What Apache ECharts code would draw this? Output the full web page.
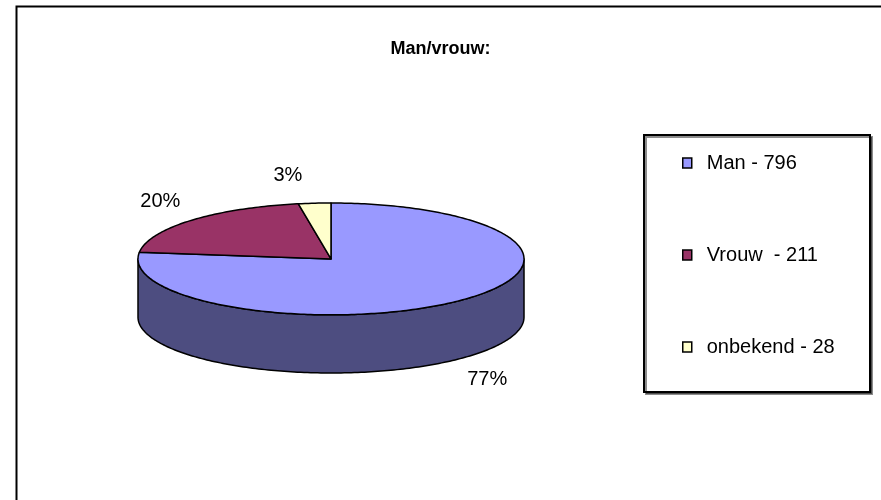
<!DOCTYPE html>
<html>
<head>
<meta charset="utf-8">
<script src="https://cdn.jsdelivr.net/npm/echarts@6/dist/echarts.min.js"></script>
<style>html,body{margin:0;padding:0;background:#fff}#chart{width:881px;height:500px}</style>
</head>
<body>
<div id="chart"></div>
<script>
// data
const categories = ['Man', 'Vrouw ', 'onbekend'];
const values = [796, 211, 28];
const topColors = ['#9999FF', '#993366', '#FFFFCC'];
const sideColors = ['#4D4D80', '#4D1A33', '#808066'];

const total = values.reduce((a, b) => a + b, 0);
const DEPTH = 1.04; // thickness of the disc, in ellipse radii
const FONT = '"Liberation Sans", Arial, sans-serif';

// angle in degrees from 12 o'clock, clockwise (Excel style)
function angleAt(i) {
    let s = 0;
    for (let k = 0; k < i; k++) s += values[k];
    return s / total * 360;
}
function pt(deg, dy) {
    const r = deg * Math.PI / 180;
    return [Math.sin(r), Math.cos(r) - (dy || 0)];
}

function renderSlice(params, api) {
    const i = params.seriesIndex;
    const a0 = angleAt(i), a1 = angleAt(i + 1);
    const children = [];

    // side wall, only the front half (90..270) is visible
    const s0 = Math.max(a0, 90), s1 = Math.min(a1, 270);
    if (s1 > s0) {
        const pts = [];
        for (let d = s0; d < s1; d += 1) pts.push(api.coord(pt(d)));
        pts.push(api.coord(pt(s1)));
        for (let d = s1; d > s0; d -= 1) pts.push(api.coord(pt(d, DEPTH)));
        pts.push(api.coord(pt(s0, DEPTH)));
        children.push({
            type: 'polygon', shape: {points: pts},
            style: {fill: sideColors[i], stroke: '#000', lineWidth: 1.5, lineJoin: 'round'}
        });
    }

    // top face
    const top = [api.coord([0, 0])];
    for (let d = a0; d < a1; d += 1) top.push(api.coord(pt(d)));
    top.push(api.coord(pt(a1)));
    children.push({
        type: 'polygon', shape: {points: top},
        style: {fill: topColors[i], stroke: '#000', lineWidth: 1.5, lineJoin: 'round'}
    });

    // percentage label
    const mid = (a0 + a1) / 2 * Math.PI / 180;
    let ly = Math.cos(mid) * 1.5;
    if (ly < 0) ly -= DEPTH;
    let lx = Math.sin(mid) * 1.22;
    if (Math.abs(lx) < 0.2) lx = lx - 0.12; // small top slice: label sits left of it
    const lp = api.coord([lx, ly]);
    children.push({
        type: 'text', x: lp[0], y: lp[1],
        style: {
            text: Math.round(values[i] / total * 100) + '%',
            fontSize: 20, fontFamily: FONT, fill: '#000',
            align: 'center', verticalAlign: 'middle'
        }
    });
    return {type: 'group', children: children};
}

const myChart = echarts.init(document.getElementById('chart'));

const option = {
    animation: false,
    backgroundColor: '#fff',
    title: {
        text: 'Man/vrouw:',
        left: 'center',
        top: 35,
        textStyle: {fontSize: 18, fontWeight: 'bold', fontFamily: FONT, color: '#000'}
    },
    graphic: [
        {
            type: 'rect', left: 14, top: 4, z: 0,
            shape: {width: 900, height: 600},
            style: {fill: 'none', stroke: '#000', lineWidth: 2}
        },
        {
            type: 'rect', left: 643, top: 134, z: 0,
            shape: {width: 226, height: 257},
            style: {
                fill: '#fff', stroke: '#000', lineWidth: 2,
                shadowColor: 'rgba(0,0,0,0.45)', shadowOffsetX: 2, shadowOffsetY: 2
            }
        }
    ],
    legend: {
        data: categories,
        orient: 'vertical',
        left: 677,
        top: 147,
        itemGap: 70,
        itemWidth: 9,
        itemHeight: 10,
        icon: 'rect',
        itemStyle: {borderColor: '#000', borderWidth: 1.5},
        formatter: name => name + ' - ' + values[categories.indexOf(name)],
        textStyle: {fontSize: 20, fontFamily: FONT, color: '#000', lineHeight: 22, padding: [0, 0, 0, 10]},
        selectedMode: false
    },
    grid: {left: 138, top: 203, width: 386, height: 170},
    xAxis: {type: 'value', min: -1, max: 1, show: false},
    yAxis: {type: 'value', min: -2.04, max: 1, show: false},
    series: categories.map((name, i) => ({
        type: 'custom',
        name: name,
        coordinateSystem: 'cartesian2d',
        data: [[0, 0]],
        renderItem: renderSlice,
        itemStyle: {color: topColors[i]},
        clip: false,
        silent: true
    }))
};
myChart.setOption(option);
</script>
</body>
</html>
